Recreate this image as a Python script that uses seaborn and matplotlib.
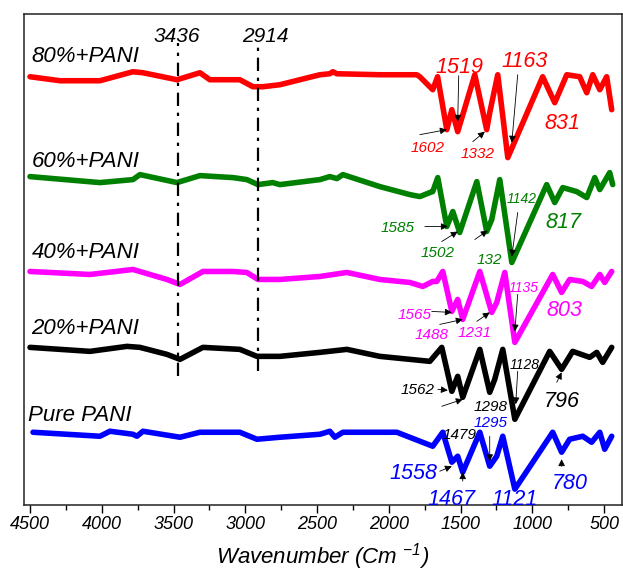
import matplotlib
matplotlib.use("Agg")
import matplotlib.pyplot as plt
import seaborn as sns
import pandas as pd
from matplotlib.ticker import MultipleLocator

sns.set_style("ticks")
plt.rcParams["font.family"] = ["Liberation Sans", "DejaVu Sans"]
plt.rcParams["font.style"] = "italic"
plt.rcParams["mathtext.fontset"] = "custom"
plt.rcParams["mathtext.rm"] = "Liberation Sans:italic"
plt.rcParams["mathtext.it"] = "Liberation Sans:italic"
plt.rcParams["text.color"] = "black"
plt.rcParams["axes.labelcolor"] = "black"
plt.rcParams["xtick.color"] = "black"
plt.rcParams["xtick.labelcolor"] = "black"

# ---------------- data (transmittance, offset, arbitrary units) ----------------
samples = ["80%+PANI", "60%+PANI", "40%+PANI", "20%+PANI", "Pure PANI"]
colors = ["#ff0000", "#008000", "#ff00ff", "#000000", "#0000ff"]

wn_80 = [4500, 4291, 4013, 3783, 3713, 3476, 3316, 3247, 3038, 2947, 2877, 2759, 2620, 2480,
         2411, 2390, 2362, 2063, 1805, 1784, 1694, 1660, 1596, 1561, 1520, 1401, 1318, 1297,
         1241, 1171, 928, 844, 760, 670, 621, 579, 530, 482, 447]
t_80 = [428, 424, 424, 433, 432, 425, 432, 425, 425, 418, 418, 420, 425, 430,
        431, 433, 431, 430, 430, 428, 415, 428, 375, 395, 373, 430, 375, 392,
        430, 347, 428, 402, 430, 428, 412, 430, 415, 428, 395]

wn_60 = [4500, 4013, 3783, 3734, 3476, 3316, 3086, 2989, 2912, 2808, 2759, 2480, 2411, 2362,
         2320, 2063, 1854, 1784, 1714, 1694, 1659, 1596, 1554, 1506, 1387, 1318, 1283, 1227,
         1143, 900, 844, 788, 691, 621, 565, 530, 461, 440]
t_60 = [328, 322, 325, 330, 322, 329, 327, 325, 320, 322, 320, 325, 328, 326,
        330, 318, 310, 308, 312, 313, 327, 278, 293, 272, 323, 273, 285, 325,
        242, 320, 302, 317, 313, 307, 327, 315, 332, 320]

wn_40 = [4500, 4082, 3783, 3546, 3455, 3295, 3086, 2989, 2912, 2759, 2480, 2292, 2063, 1854,
         1763, 1694, 1666, 1624, 1561, 1520, 1485, 1366, 1283, 1248, 1192, 1122, 858, 796,
         740, 649, 587, 530, 496, 447]
t_40 = [233, 230, 235, 225, 220, 233, 233, 232, 225, 225, 228, 232, 225, 222,
        218, 223, 223, 233, 193, 205, 185, 233, 192, 202, 232, 162, 230, 212,
        225, 223, 218, 230, 222, 233]

wn_20 = [4500, 4082, 3825, 3734, 3546, 3455, 3295, 3038, 2919, 2759, 2480, 2292, 2063, 1714,
         1631, 1561, 1520, 1485, 1366, 1297, 1262, 1206, 1122, 879, 796, 719, 600, 551,
         510, 447]
t_20 = [157, 153, 158, 157, 150, 145, 157, 155, 148, 148, 152, 155, 148, 143,
        157, 113, 128, 107, 155, 112, 125, 155, 85, 153, 135, 153, 147, 152,
        142, 157]

wn_pure = [4479, 4013, 3943, 3783, 3755, 3713, 3455, 3316, 3038, 2919, 2759, 2480, 2411, 2376,
           2320, 1944, 1694, 1624, 1561, 1520, 1485, 1366, 1297, 1248, 1206, 1122, 858, 796,
           740, 649, 587, 530, 496, 447]
t_pure = [72, 68, 73, 70, 68, 73, 67, 72, 72, 65, 67, 70, 73, 67,
          72, 72, 58, 72, 42, 48, 32, 72, 38, 48, 68, 15, 72, 52,
          65, 68, 62, 72, 55, 68]

vline_pos = [3470, 2910]
vline_labels = ["3436", "2914"]

# peak labels: text, colour
peak_labels = ["1519", "1163", "1602", "1332", "831",
               "1585", "1502", "132", "1142", "817",
               "1565", "1488", "1231", "1135", "803",
               "1562", "1298", "1128", "796",
               "1479", "1295", "1558", "1467", "1121", "780"]
peak_colors = ["#ff0000"] * 5 + ["#008000"] * 5 + ["#ff00ff"] * 5 + ["#000000"] * 4 + \
              ["#000000", "#0000ff", "#0000ff", "#0000ff", "#0000ff", "#0000ff"]

# ---------------- layout (positions of annotations) ----------------
L, S, T = 15.5, 11, 10
peak_sizes = [L, L, S, S, L,
              S, S, S, T, L,
              S, S, S, T, L,
              S, S, T, L,
              S, S, L, L, L, L]
peak_text_pos = [(1506, 432), (1053, 438), (1728, 353), (1380, 347), (788, 376),
                 (1937, 273), (1659, 247), (1297, 240), (1074, 302), (781, 277),
                 (1819, 185), (1701, 165), (1401, 167), (1060, 212), (774, 188),
                 (1798, 110), (1290, 93), (1053, 135), (795, 97),
                 (1506, 65), (1290, 77), (1826, 25), (1561, -1), (1122, -1), (740, 15)]
arrows = [((1513, 429), (1520, 383)), ((1102, 430), (1143, 362)),
          ((1784, 370), (1596, 375)), ((1415, 363), (1331, 373)),
          ((1749, 278), (1589, 278)), ((1631, 263), (1520, 273)),
          ((1401, 265), (1311, 274)), ((1102, 292), (1143, 248)),
          ((1701, 193), (1561, 192)), ((1645, 180), (1485, 185)),
          ((1387, 183), (1297, 192)), ((1102, 210), (1122, 173)),
          ((1659, 115), (1589, 114)), ((1631, 98), (1485, 105)),
          ((1102, 133), (1116, 100)), ((830, 122), (796, 132)),
          ((1297, 68), (1297, 43)), ((1645, 33), (1561, 38)),
          ((1485, 23), (1485, 32)), ((796, 38), (796, 45))]
sample_label_pos = [(4490, 443), (4490, 338), (4490, 246), (4490, 170), (4514, 83)]

# ---------------- build long table ----------------
frames = []
for name, wn, t in zip(samples, [wn_80, wn_60, wn_40, wn_20, wn_pure],
                       [t_80, t_60, t_40, t_20, t_pure]):
    frames.append(pd.DataFrame({"wavenumber": wn, "T": t, "sample": name}))
df = pd.concat(frames, ignore_index=True)

fig = plt.figure(figsize=(6.23, 5.76), dpi=100)
ax = fig.add_axes([0.0385, 0.123, 0.9595, 0.853])

sns.lineplot(data=df, x="wavenumber", y="T", hue="sample", palette=dict(zip(samples, colors)),
             estimator=None, sort=False, linewidth=4.0, legend=False, ax=ax,
             solid_joinstyle="round", solid_capstyle="round")

ax.set_xlim(4542, 377)
ax.set_ylim(-1, 491)

# dash-dot reference lines
for xv, (y0, y1) in zip(vline_pos, [(128, 462), (133, 458)]):
    ax.plot([xv, xv], [y0, y1], color="black", lw=1.6, ls=(0, (6, 3, 1.5, 3)))
ax.text(3476, 463, vline_labels[0], ha="center", va="baseline", fontsize=15, color="black")
ax.text(2857, 463, vline_labels[1], ha="center", va="baseline", fontsize=15, color="black")

for name, (x, y) in zip(samples, sample_label_pos):
    ax.text(x, y, name, ha="left", va="baseline", fontsize=16, color="black")

for lab, c, s, (x, y) in zip(peak_labels, peak_colors, peak_sizes, peak_text_pos):
    ax.text(x, y, lab, ha="center", va="baseline", fontsize=s, color=c)

for start, end in arrows:
    ax.annotate("", xy=end, xytext=start,
                arrowprops=dict(arrowstyle="-|>", color="black", lw=0.6,
                                mutation_scale=10, shrinkA=0, shrinkB=0))

ax.xaxis.set_major_locator(MultipleLocator(500))
ax.xaxis.set_minor_locator(MultipleLocator(250))
ax.tick_params(axis="x", which="major", direction="out", length=6, width=1, labelsize=13, pad=2,
               top=False, colors="black")
ax.tick_params(axis="x", which="minor", direction="out", length=3.5, width=1, top=False,
               colors="black")
ax.set_yticks([])
for sp in ax.spines.values():
    sp.set_visible(True)
    sp.set_linewidth(1.1)
    sp.set_color("#222222")
for lab in ax.get_xticklabels():
    lab.set_fontstyle("italic")
ax.set_xlabel("Wavenumber (Cm $^{-1}$)", fontsize=16, labelpad=6, color="black")
ax.set_ylabel("")

fig.savefig("out.png", dpi=100)
